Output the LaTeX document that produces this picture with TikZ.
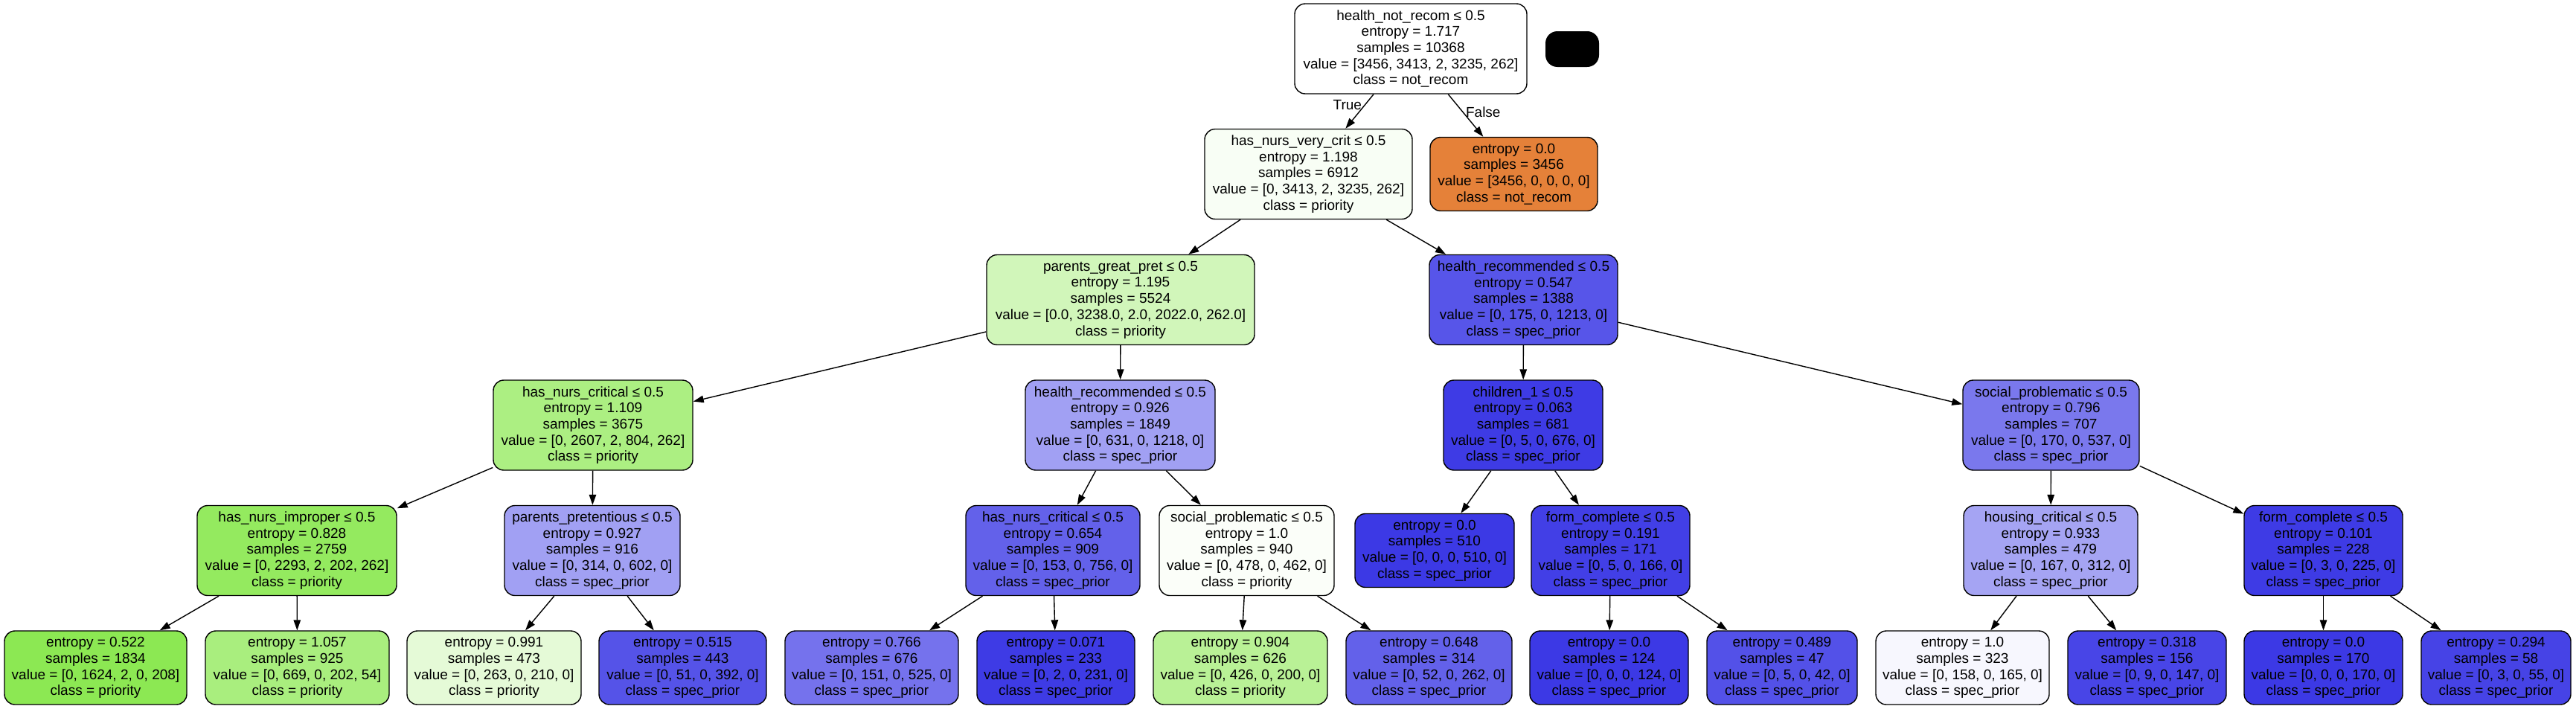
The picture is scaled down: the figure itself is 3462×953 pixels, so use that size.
\documentclass[tikz,border=0pt]{standalone}
\usepackage{fontspec}
\setmainfont{Liberation Sans}
\usetikzlibrary{arrows.meta}
\definecolor{notrecom}{RGB}{229,129,57}
\definecolor{priority}{RGB}{123,229,57}
\definecolor{specprior}{RGB}{60,57,229}

\begin{document}
\begin{tikzpicture}[x=1pt, y=-1pt,
    split/.style={shape=rectangle, draw=black, line width=1.4pt, rounded corners=14pt,
        minimum height=121pt, inner xsep=6pt, inner ysep=0pt, align=center,
        font=\fontsize{19}{21.7}\selectfont},
    leaf/.style={split, minimum height=99pt},
    >={Triangle[length=14pt, width=9.5pt]},
    every edge/.style={draw, line width=1.4pt}]
    \fill[white] (0,0) rectangle (3462,953);
    \useasboundingbox (0,0) rectangle (3462,953);
    % level 0
    \node[split, minimum width=312pt, fill=white] (n0) at (1896,65.5) {health\_not\_recom ≤ 0.5\\entropy = 1.717\\samples = 10368\\value = [3456, 3413, 2, 3235, 262]\\class = not\_recom};
    \node[shape=rectangle, fill=black, rounded corners=16pt, minimum width=72pt, minimum height=48pt] (blank) at (2113,66) {};
    % level 1
    \node[split, minimum width=279pt, fill=priority!5] (n1) at (1758.5,234) {has\_nurs\_very\_crit ≤ 0.5\\entropy = 1.198\\samples = 6912\\value = [0, 3413, 2, 3235, 262]\\class = priority};
    \node[leaf, minimum width=225pt, fill=notrecom] (n2) at (2034.5,234) {entropy = 0.0\\samples = 3456\\value = [3456, 0, 0, 0, 0]\\class = not\_recom};
    % level 2
    \node[split, minimum width=360pt, fill=priority!35] (n3) at (1506,403) {parents\_great\_pret ≤ 0.5\\entropy = 1.195\\samples = 5524\\value = [0.0, 3238.0, 2.0, 2022.0, 262.0]\\class = priority};
    \node[split, minimum width=253pt, fill=specprior!86] (n4) at (2047.5,403) {health\_recommended ≤ 0.5\\entropy = 0.547\\samples = 1388\\value = [0, 175, 0, 1213, 0]\\class = spec\_prior};
    % level 3
    \node[split, minimum width=268pt, fill=priority!63] (n5) at (797,571.5) {has\_nurs\_critical ≤ 0.5\\entropy = 1.109\\samples = 3675\\value = [0, 2607, 2, 804, 262]\\class = priority};
    \node[split, minimum width=255pt, fill=specprior!48] (n6) at (1505.5,571.5) {health\_recommended ≤ 0.5\\entropy = 0.926\\samples = 1849\\value = [0, 631, 0, 1218, 0]\\class = spec\_prior};
    \node[split, minimum width=214pt, fill=specprior!99] (n7) at (2047,571.5) {children\_1 ≤ 0.5\\entropy = 0.063\\samples = 681\\value = [0, 5, 0, 676, 0]\\class = spec\_prior};
    \node[split, minimum width=237pt, fill=specprior!68] (n8) at (2756.5,571.5) {social\_problematic ≤ 0.5\\entropy = 0.796\\samples = 707\\value = [0, 170, 0, 537, 0]\\class = spec\_prior};
    % level 4
    \node[split, minimum width=268pt, fill=priority!81] (n9) at (399,740) {has\_nurs\_improper ≤ 0.5\\entropy = 0.828\\samples = 2759\\value = [0, 2293, 2, 202, 262]\\class = priority};
    \node[split, minimum width=236pt, fill=specprior!48] (n10) at (796,740) {parents\_pretentious ≤ 0.5\\entropy = 0.927\\samples = 916\\value = [0, 314, 0, 602, 0]\\class = spec\_prior};
    \node[split, minimum width=234pt, fill=specprior!80] (n11) at (1415,740) {has\_nurs\_critical ≤ 0.5\\entropy = 0.654\\samples = 909\\value = [0, 153, 0, 756, 0]\\class = spec\_prior};
    \node[split, minimum width=235pt, fill=priority!3] (n12) at (1675.5,740) {social\_problematic ≤ 0.5\\entropy = 1.0\\samples = 940\\value = [0, 478, 0, 462, 0]\\class = priority};
    \node[leaf, minimum width=214pt, fill=specprior] (n13) at (1928,740) {entropy = 0.0\\samples = 510\\value = [0, 0, 0, 510, 0]\\class = spec\_prior};
    \node[split, minimum width=213pt, fill=specprior!97] (n14) at (2164.5,740) {form\_complete ≤ 0.5\\entropy = 0.191\\samples = 171\\value = [0, 5, 0, 166, 0]\\class = spec\_prior};
    \node[split, minimum width=234pt, fill=specprior!46] (n15) at (2756,740) {housing\_critical ≤ 0.5\\entropy = 0.933\\samples = 479\\value = [0, 167, 0, 312, 0]\\class = spec\_prior};
    \node[split, minimum width=213pt, fill=specprior!99] (n16) at (3122.5,740) {form\_complete ≤ 0.5\\entropy = 0.101\\samples = 228\\value = [0, 3, 0, 225, 0]\\class = spec\_prior};
    % level 5
    \node[leaf, minimum width=245pt, fill=priority!87] (n17) at (128.5,897.5) {entropy = 0.522\\samples = 1834\\value = [0, 1624, 2, 0, 208]\\class = priority};
    \node[leaf, minimum width=247pt, fill=priority!65] (n18) at (399.5,897.5) {entropy = 1.057\\samples = 925\\value = [0, 669, 0, 202, 54]\\class = priority};
    \node[leaf, minimum width=234pt, fill=priority!20] (n19) at (664,897.5) {entropy = 0.991\\samples = 473\\value = [0, 263, 0, 210, 0]\\class = priority};
    \node[leaf, minimum width=225pt, fill=specprior!87] (n20) at (917.5,897.5) {entropy = 0.515\\samples = 443\\value = [0, 51, 0, 392, 0]\\class = spec\_prior};
    \node[leaf, minimum width=233pt, fill=specprior!71] (n21) at (1171.5,897.5) {entropy = 0.766\\samples = 676\\value = [0, 151, 0, 525, 0]\\class = spec\_prior};
    \node[leaf, minimum width=212pt, fill=specprior!99] (n22) at (1419,897.5) {entropy = 0.071\\samples = 233\\value = [0, 2, 0, 231, 0]\\class = spec\_prior};
    \node[leaf, minimum width=234pt, fill=priority!53] (n23) at (1667,897.5) {entropy = 0.904\\samples = 626\\value = [0, 426, 0, 200, 0]\\class = priority};
    \node[leaf, minimum width=223pt, fill=specprior!80] (n24) at (1920.5,897.5) {entropy = 0.648\\samples = 314\\value = [0, 52, 0, 262, 0]\\class = spec\_prior};
    \node[leaf, minimum width=213pt, fill=specprior] (n25) at (2162.5,897.5) {entropy = 0.0\\samples = 124\\value = [0, 0, 0, 124, 0]\\class = spec\_prior};
    \node[leaf, minimum width=202pt, fill=specprior!88] (n26) at (2395,897.5) {entropy = 0.489\\samples = 47\\value = [0, 5, 0, 42, 0]\\class = spec\_prior};
    \node[leaf, minimum width=233pt, fill=specprior!4] (n27) at (2637.5,897.5) {entropy = 1.0\\samples = 323\\value = [0, 158, 0, 165, 0]\\class = spec\_prior};
    \node[leaf, minimum width=213pt, fill=specprior!94] (n28) at (2885.5,897.5) {entropy = 0.318\\samples = 156\\value = [0, 9, 0, 147, 0]\\class = spec\_prior};
    \node[leaf, minimum width=213pt, fill=specprior] (n29) at (3122.5,897.5) {entropy = 0.0\\samples = 170\\value = [0, 0, 0, 170, 0]\\class = spec\_prior};
    \node[leaf, minimum width=201pt, fill=specprior!95] (n30) at (3354.5,897.5) {entropy = 0.294\\samples = 58\\value = [0, 3, 0, 55, 0]\\class = spec\_prior};
    % edges
    \path [->] (n0) edge node[pos=0.32, left, font=\fontsize{19}{21.7}\selectfont] {True} (n1);
    \path [->] (n0) edge node[pos=0.42, right, font=\fontsize{19}{21.7}\selectfont] {False} (n2);
    \path [->] (n1) edge (n3);
    \path [->] (n1) edge (n4);
    \path [->] (n3) edge (n5);
    \path [->] (n3) edge (n6);
    \path [->] (n4) edge (n7);
    \path [->] (n4) edge (n8);
    \path [->] (n5) edge (n9);
    \path [->] (n5) edge (n10);
    \path [->] (n6) edge (n11);
    \path [->] (n6) edge (n12);
    \path [->] (n7) edge (n13);
    \path [->] (n7) edge (n14);
    \path [->] (n8) edge (n15);
    \path [->] (n8) edge (n16);
    \path [->] (n9) edge (n17);
    \path [->] (n9) edge (n18);
    \path [->] (n10) edge (n19);
    \path [->] (n10) edge (n20);
    \path [->] (n11) edge (n21);
    \path [->] (n11) edge (n22);
    \path [->] (n12) edge (n23);
    \path [->] (n12) edge (n24);
    \path [->] (n14) edge (n25);
    \path [->] (n14) edge (n26);
    \path [->] (n15) edge (n27);
    \path [->] (n15) edge (n28);
    \path [->] (n16) edge (n29);
    \path [->] (n16) edge (n30);
\end{tikzpicture}
\end{document}
